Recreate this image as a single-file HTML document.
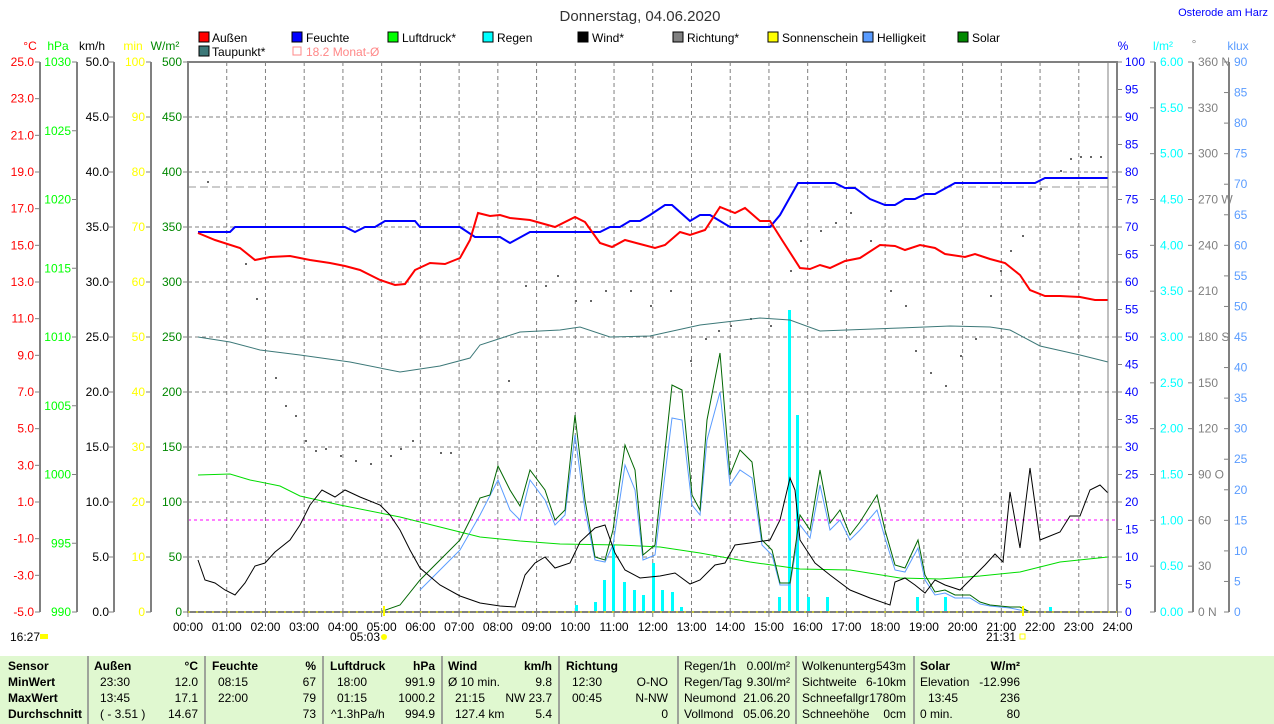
<!DOCTYPE html><html><head><meta charset="utf-8"><style>body{margin:0;background:#fff}svg{display:block}text{font-family:"Liberation Sans",sans-serif;font-size:12px}</style></head><body>
<svg width="1274" height="724" viewBox="0 0 1274 724" xmlns="http://www.w3.org/2000/svg">
<text x="640" y="21" text-anchor="middle" style="font-size:15px" fill="#333">Donnerstag, 04.06.2020</text>
<text x="1268" y="16" text-anchor="end" style="font-size:11px" fill="#0000ff">Osterode am Harz</text>
<g style="font-size:11px">
<rect x="199" y="32" width="10" height="10" fill="#f00" stroke="#000"/><text x="212" y="42">Außen</text>
<rect x="292" y="32" width="10" height="10" fill="#00f" stroke="#000"/><text x="306" y="42">Feuchte</text>
<rect x="388" y="32" width="10" height="10" fill="#0f0" stroke="#000"/><text x="402" y="42">Luftdruck*</text>
<rect x="483" y="32" width="10" height="10" fill="#0ff" stroke="#000"/><text x="497" y="42">Regen</text>
<rect x="578" y="32" width="10" height="10" fill="#000" stroke="#000"/><text x="592" y="42">Wind*</text>
<rect x="673" y="32" width="10" height="10" fill="#808080" stroke="#000"/><text x="687" y="42">Richtung*</text>
<rect x="768" y="32" width="10" height="10" fill="#ff0" stroke="#000"/><text x="782" y="42">Sonnenschein</text>
<rect x="863" y="32" width="10" height="10" fill="#5a9cff" stroke="#000"/><text x="877" y="42">Helligkeit</text>
<rect x="958" y="32" width="10" height="10" fill="#080" stroke="#000"/><text x="972" y="42">Solar</text>
<rect x="199" y="46" width="10" height="10" fill="#3c7878" stroke="#000"/><text x="212" y="56">Taupunkt*</text>
<rect x="293" y="47" width="8" height="8" fill="none" stroke="#f88"/><text x="306" y="56" fill="#f88">18.2 Monat-Ø</text>
</g>
<g style="font-size:11px">
<text x="30" y="50" text-anchor="middle" fill="#f00">°C</text>
<text x="58" y="50" text-anchor="middle" fill="#0f0">hPa</text>
<text x="92" y="50" text-anchor="middle" fill="#000">km/h</text>
<text x="133" y="50" text-anchor="middle" fill="#ff0">min</text>
<text x="165" y="50" text-anchor="middle" fill="#080">W/m²</text>
<text x="1123" y="50" text-anchor="middle" fill="#00f">%</text>
<text x="1163" y="50" text-anchor="middle" fill="#0ff">l/m²</text>
<text x="1194" y="48" text-anchor="middle" fill="#888">°</text>
<text x="1238" y="50" text-anchor="middle" fill="#5a9cff">klux</text>
</g>
<g stroke="#808080" stroke-width="2" fill="none">
<line x1="40" y1="62" x2="40" y2="612"/><line x1="77" y1="62" x2="77" y2="612"/><line x1="114" y1="62" x2="114" y2="612"/><line x1="151" y1="62" x2="151" y2="612"/>
<line x1="1155" y1="62" x2="1155" y2="612"/><line x1="1193" y1="62" x2="1193" y2="612"/><line x1="1229" y1="62" x2="1229" y2="612"/>
</g>
<g id="grid" stroke="#808080" stroke-dasharray="4,3" stroke-width="1"></g>
<line x1="188" y1="187" x2="1117" y2="187" stroke="#999" stroke-dasharray="8,4"/>
<line x1="188" y1="520" x2="1117" y2="520" stroke="#f0f" stroke-dasharray="3,3"/>
<g id="axes"></g>
<g id="rain" fill="#0ff"></g>
<g id="dots" fill="#666"></g>
<g id="series" fill="none"></g>
<rect x="188" y="62" width="929" height="550" fill="none" stroke="#808080" stroke-width="2"/>
<line x1="1108" y1="62" x2="1108" y2="612" stroke="#808080"/>
<line x1="188" y1="612" x2="1117" y2="612" stroke="#ff0" stroke-dasharray="2,6"/>
<rect x="383" y="606" width="2" height="10" fill="#ff0"/><rect x="1022" y="606" width="2" height="10" fill="#ff0"/>
<g style="font-size:11px"><text x="10" y="641">16:27</text><text x="350" y="641">05:03</text><text x="986" y="641">21:31</text></g>
<rect x="40" y="634" width="8" height="5" fill="#ff0"/><circle cx="384" cy="637" r="3" fill="#ff0"/><rect x="1020" y="634" width="5" height="5" fill="none" stroke="#ff0"/>
<rect x="0" y="656" width="1274" height="68" fill="#e0f8d0"/>
<g stroke="#888" stroke-width="1.5"><line x1="88" y1="656" x2="88" y2="724"/><line x1="205" y1="656" x2="205" y2="724"/><line x1="323" y1="656" x2="323" y2="724"/><line x1="442" y1="656" x2="442" y2="724"/><line x1="559" y1="656" x2="559" y2="724"/><line x1="678" y1="656" x2="678" y2="724"/><line x1="796" y1="656" x2="796" y2="724"/><line x1="914" y1="656" x2="914" y2="724"/></g>
<g style="font-size:11px">
<g font-weight="bold"><text x="8" y="670">Sensor</text><text x="8" y="686">MinWert</text><text x="8" y="702">MaxWert</text><text x="8" y="718">Durchschnitt</text>
<text x="94" y="670">Außen</text><text x="198" y="670" text-anchor="end">°C</text>
<text x="212" y="670">Feuchte</text><text x="316" y="670" text-anchor="end">%</text>
<text x="330" y="670">Luftdruck</text><text x="435" y="670" text-anchor="end">hPa</text>
<text x="448" y="670">Wind</text><text x="552" y="670" text-anchor="end">km/h</text>
<text x="566" y="670">Richtung</text>
<text x="920" y="670">Solar</text><text x="1020" y="670" text-anchor="end">W/m²</text></g>
<text x="100" y="686">23:30</text><text x="198" y="686" text-anchor="end">12.0</text>
<text x="100" y="702">13:45</text><text x="198" y="702" text-anchor="end">17.1</text>
<text x="100" y="718">( - 3.51 )</text><text x="198" y="718" text-anchor="end">14.67</text>
<text x="218" y="686">08:15</text><text x="316" y="686" text-anchor="end">67</text>
<text x="218" y="702">22:00</text><text x="316" y="702" text-anchor="end">79</text>
<text x="316" y="718" text-anchor="end">73</text>
<text x="337" y="686">18:00</text><text x="435" y="686" text-anchor="end">991.9</text>
<text x="337" y="702">01:15</text><text x="435" y="702" text-anchor="end">1000.2</text>
<text x="331" y="718">^1.3hPa/h</text><text x="435" y="718" text-anchor="end">994.9</text>
<text x="448" y="686">Ø 10 min.</text><text x="552" y="686" text-anchor="end">9.8</text>
<text x="455" y="702">21:15</text><text x="552" y="702" text-anchor="end">NW 23.7</text>
<text x="455" y="718">127.4 km</text><text x="552" y="718" text-anchor="end">5.4</text>
<text x="572" y="686">12:30</text><text x="668" y="686" text-anchor="end">O-NO</text>
<text x="572" y="702">00:45</text><text x="668" y="702" text-anchor="end">N-NW</text>
<text x="668" y="718" text-anchor="end">0</text>
<text x="684" y="670">Regen/1h</text><text x="790" y="670" text-anchor="end">0.00l/m²</text>
<text x="684" y="686">Regen/Tag</text><text x="790" y="686" text-anchor="end">9.30l/m²</text>
<text x="684" y="702">Neumond</text><text x="790" y="702" text-anchor="end">21.06.20</text>
<text x="684" y="718">Vollmond</text><text x="790" y="718" text-anchor="end">05.06.20</text>
<text x="802" y="670">Wolkenunterg</text><text x="906" y="670" text-anchor="end">543m</text>
<text x="802" y="686">Sichtweite</text><text x="906" y="686" text-anchor="end">6-10km</text>
<text x="802" y="702">Schneefallgr</text><text x="906" y="702" text-anchor="end">1780m</text>
<text x="802" y="718">Schneehöhe</text><text x="906" y="718" text-anchor="end">0cm</text>
<text x="920" y="686">Elevation</text><text x="1020" y="686" text-anchor="end">-12.996</text>
<text x="928" y="702">13:45</text><text x="1020" y="702" text-anchor="end">236</text>
<text x="920" y="718">0 min.</text><text x="1020" y="718" text-anchor="end">80</text>
</g>
</svg>
<script>
const NS="http://www.w3.org/2000/svg";
function el(p,t,a,txt){const e=document.createElementNS(NS,t);for(const k in a)e.setAttribute(k,a[k]);if(txt!==undefined)e.textContent=txt;document.getElementById(p).appendChild(e);return e;}
const T=62,B=612,H=550;
for(let i=1;i<24;i++){const x=188+i*38.73;el("grid","line",{x1:x,y1:T,x2:x,y2:B});}
for(let i=1;i<10;i++){const y=T+i*55;el("grid","line",{x1:188,y1:y,x2:1117,y2:y});}
for(let i=0;i<=24;i++){const x=188+i*38.73;el("axes","line",{x1:x,y1:B,x2:x,y2:B+5,stroke:"#808080"});el("axes","text",{x:x,y:631,"text-anchor":"middle","font-size":"11"},(i<10?"0":"")+i+":00");}
function axis(n,fn,x,col,anchor,tick){for(let i=0;i<=n;i++){const y=T+H*i/n;const s=fn(i);if(s===null)continue;el("axes","line",{x1:tick[0],y1:y,x2:tick[1],y2:y,stroke:"#808080"});el("axes","text",{x:x,y:y+4,"text-anchor":anchor,fill:col,"font-size":"11"},s);}}
axis(15,i=>(25-2*i).toFixed(1),34,"#f00","end",[35,40]);
axis(8,i=>String(1030-5*i),71,"#0f0","end",[72,77]);
axis(10,i=>(50-5*i).toFixed(1),109,"#000","end",[109,114]);
axis(10,i=>String(100-10*i),145,"#ff0","end",[146,151]);
axis(10,i=>String(500-50*i),182,"#080","end",[183,188]);
axis(20,i=>String(100-5*i),1125,"#00f","start",[1117,1122]);
axis(12,i=>(6-0.5*i).toFixed(2),1160,"#0ff","start",[1150,1155]);
const dirs={0:" N",3:" W",6:" S",9:" O",12:" N"};
axis(12,i=>(360-30*i)+(dirs[i]||""),1198,"#808080","start",[1188,1193]);
axis(18,i=>String(90-5*i),1234,"#5a9cff","start",[1224,1229]);
function line(pts,col,w){el("series","polyline",{points:pts.map(p=>p.join(",")).join(" "),stroke:col,"stroke-width":w||1});}
const rain=[[576,605],[595,602],[604,580],[613,545],[624,582],[634,590],[643,595],[653,563],[662,590],[672,592],[681,607],[779,597],[789,310],[797,415],[808,597],[827,597],[917,597],[945,597],[1050,607]];
rain.forEach(r=>el("rain","rect",{x:r[0]-1,y:r[1],width:3,height:612-r[1]}));
const dots=[[207,181],[245,263],[256,298],[275,377],[285,405],[295,415],[305,440],[315,450],[325,448],[340,455],[355,460],[370,463],[390,455],[400,448],[412,440],[440,452],[450,452],[508,380],[525,285],[545,285],[557,275],[575,300],[590,300],[605,290],[630,290],[650,305],[670,290],[690,360],[705,338],[718,330],[730,325],[750,318],[770,325],[790,270],[800,240],[820,230],[835,222],[850,212],[870,240],[890,290],[905,305],[915,350],[930,372],[945,385],[960,355],[975,338],[990,295],[1000,270],[1010,250],[1022,235],[1040,188],[1060,170],[1070,158],[1080,156],[1090,156],[1100,156]];
dots.forEach(d=>el("dots","rect",{x:d[0],y:d[1],width:2,height:2}));
line([[198,475],[230,474],[250,480],[280,486],[300,496],[340,505],[400,517],[440,527],[480,537],[520,541],[560,544],[620,545],[660,547],[700,553],[750,562],[800,569],[850,570],[900,578],[940,579],[980,576],[1020,572],[1060,562],[1108,557]],"#00dd00");
line([[198,337],[230,342],[260,350],[300,355],[350,362],[400,372],[440,366],[470,358],[480,345],[520,332],[560,330],[580,327],[610,337],[650,336],[700,325],[760,318],[790,320],[820,331],[900,328],[950,326],[990,327],[1010,330],[1040,346],[1080,355],[1108,362]],"#3c7878");
line([[420,590],[440,570],[460,550],[480,515],[498,480],[510,510],[520,520],[530,480],[545,500],[555,525],[565,515],[575,435],[585,510],[595,560],[605,562],[613,545],[625,465],[635,490],[643,560],[655,555],[672,418],[682,420],[692,505],[700,515],[707,440],[720,392],[730,485],[740,470],[752,478],[762,545],[772,555],[780,585],[790,585],[800,525],[810,538],[820,485],[830,530],[840,520],[850,540],[860,530],[877,510],[885,538],[895,570],[905,572],[918,548],[925,580],[935,595],[945,593],[955,598],[970,598],[980,604],[990,606],[1010,608],[1030,612]],"#5a9cff");
line([[380,612],[400,605],[420,580],[440,560],[460,540],[470,520],[480,498],[490,495],[498,466],[510,490],[520,506],[530,470],[545,490],[555,520],[565,510],[575,415],[585,500],[595,557],[605,560],[613,530],[625,445],[635,470],[643,555],[655,545],[672,385],[682,390],[692,495],[700,510],[707,420],[720,353],[730,475],[740,450],[752,462],[762,540],[772,550],[780,583],[790,583],[800,515],[810,530],[820,470],[830,523],[840,510],[850,535],[860,522],[877,495],[885,530],[895,565],[905,568],[918,540],[925,575],[935,592],[945,590],[955,595],[970,595],[980,602],[990,605],[1010,607],[1020,607],[1030,612]],"#006600");
line([[198,560],[205,580],[215,583],[225,590],[235,595],[245,583],[255,566],[265,563],[275,552],[290,540],[300,525],[310,505],[322,490],[335,497],[345,490],[360,497],[380,505],[390,515],[400,530],[410,550],[420,568],[440,585],[460,596],[480,603],[500,606],[515,607],[525,575],[535,563],[545,557],[555,568],[570,563],[580,542],[595,528],[605,525],[615,553],[625,570],[640,578],[660,576],[675,573],[690,584],[700,580],[715,565],[725,563],[735,545],[750,543],[770,540],[780,520],[790,478],[795,490],[800,540],[815,563],[830,575],[850,590],[870,598],[890,605],[895,582],[905,578],[915,585],[925,593],[935,580],[945,585],[960,590],[975,575],[985,565],[995,554],[1003,562],[1010,492],[1020,548],[1030,468],[1040,540],[1060,532],[1070,516],[1080,516],[1090,490],[1100,485],[1108,493]],"#000");
line([[198,232],[230,232],[235,227],[345,227],[355,232],[365,227],[375,227],[385,221],[415,221],[420,227],[460,227],[475,237],[500,237],[510,243],[530,232],[600,232],[610,227],[620,227],[630,221],[640,221],[650,215],[665,205],[672,205],[690,221],[700,215],[710,215],[720,221],[730,227],[770,227],[780,215],[798,183],[835,183],[845,188],[855,188],[870,199],[885,205],[895,205],[905,199],[915,199],[925,194],[935,194],[955,183],[1035,183],[1045,178],[1108,178]],"#00f",2);
line([[198,233],[215,240],[240,248],[255,260],[270,257],[290,256],[310,260],[330,263],[345,266],[360,270],[380,280],[395,285],[405,284],[415,270],[430,263],[445,264],[460,258],[470,240],[478,213],[490,216],[500,215],[510,218],[530,220],[555,227],[575,217],[585,222],[600,243],[612,247],[625,240],[640,244],[655,248],[665,245],[680,232],[690,235],[705,230],[720,207],[735,213],[745,208],[760,221],[770,221],[782,240],[800,268],[810,269],[820,265],[830,268],[845,261],[860,258],[880,245],[895,246],[905,250],[920,245],[935,248],[945,254],[965,257],[975,254],[990,259],[1005,263],[1020,275],[1030,290],[1045,296],[1060,296],[1080,297],[1095,300],[1108,300]],"#f00",2);
</script>
</body></html>
